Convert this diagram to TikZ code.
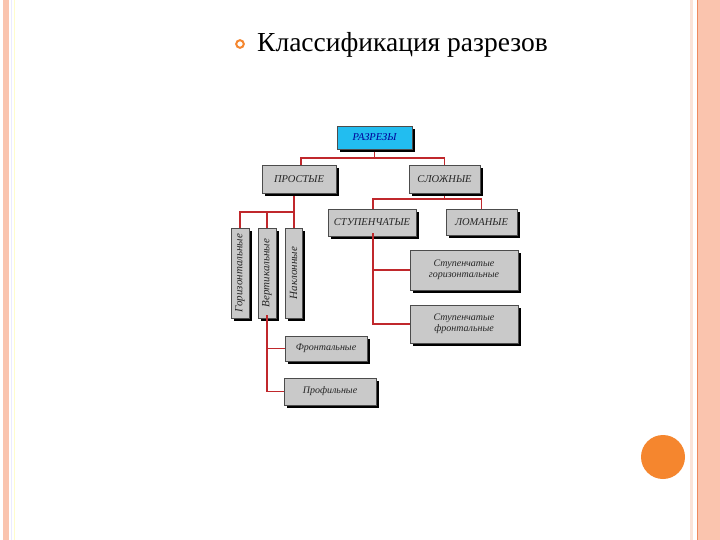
\documentclass[tikz,border=0pt]{standalone}
\usepackage{fontspec}
\setmainfont{Liberation Serif}
\usetikzlibrary{shadows}
\definecolor{peach}{HTML}{FAC4AE}
\definecolor{paleline}{HTML}{FBE3D8}
\definecolor{orangeline}{HTML}{F08A5E}
\definecolor{dotorange}{HTML}{F5862E}
\definecolor{boxgray}{HTML}{C9C9C9}
\definecolor{cyanbox}{HTML}{22BDF0}
\definecolor{linkred}{HTML}{C0282C}
\tikzset{
  box/.style={draw=black!70, line width=0.4pt, fill=boxgray, rectangle, inner sep=0pt,
    font=\fontsize{10}{10.5}\selectfont\itshape, text=black!85, align=center,
    drop shadow={shadow xshift=3pt, shadow yshift=-3pt, fill=black, opacity=1}},
  capsbox/.style={box, font=\fontsize{10.5}{11}\selectfont\itshape},
  vbox/.style={box, font=\fontsize{11}{11}\selectfont\itshape},
  link/.style={draw=linkred, line width=1.6pt}
}
\begin{document}
\begin{tikzpicture}[x=1pt,y=-1pt]
\useasboundingbox (0,0) rectangle (720,540);
\fill[white] (0,0) rectangle (720,540);
% slide decoration
\fill[peach] (3,0) rectangle (9,540);
\draw[blue!8, line width=0.8pt] (11,0) -- (11,540);
\draw[yellow!20, line width=0.8pt] (14,0) -- (14,540);
\fill[paleline] (690,0) rectangle (692.7,540);
\fill[orangeline] (696.7,0) rectangle (698.3,540);
\fill[peach] (698.3,0) rectangle (720,540);
\fill[dotorange] (663,457) circle (22);
% header
\draw[dotorange, line width=2pt, fill=white] (240,44) circle (3.8);
\node[anchor=base west, inner sep=0pt, font=\fontsize{27.5}{30}\selectfont] (title) at (257,52) {Классификация разрезов};
% connectors
\draw[link] (374.5,149) -- (374.5,158) coordinate (b1);
\draw[link] (b1) -| (301,165);
\draw[link] (b1) -| (444.5,165);
\draw[link] (444.5,193) -- (444.5,199) coordinate (b2);
\draw[link] (b2) -| (373,209);
\draw[link] (b2) -| (481.5,209);
\draw[link] (294,193) -- (294,212) coordinate (b3);
\draw[link] (b3) -| (240,228);
\draw[link] (b3) -| (267,228);
\draw[link] (b3) -- (294,228);
% boxes
\node[capsbox, fill=cyanbox, text=blue!60!black, minimum width=75, minimum height=23] (raz) at (374.5,137.5) {РАЗРЕЗЫ};
\node[capsbox, minimum width=74, minimum height=28] (prost) at (299,179) {ПРОСТЫЕ};
\node[capsbox, minimum width=71, minimum height=28] (slozh) at (444.5,179) {СЛОЖНЫЕ};
\node[capsbox, minimum width=88, minimum height=27] (stup) at (372,222.5) {СТУПЕНЧАТЫЕ};
\node[capsbox, minimum width=71, minimum height=26] (lom) at (481.5,222) {ЛОМАНЫЕ};
\node[box, minimum width=108, minimum height=40] (stgor) at (464,270) {Ступенчатые\\горизонтальные};
\node[box, minimum width=108, minimum height=38] (stfr) at (464,324) {Ступенчатые\\фронтальные};
\node[vbox, minimum width=18, minimum height=90] (gor) at (240,273) {\rotatebox{90}{Горизонтальные}};
\node[vbox, minimum width=18, minimum height=90] (vert) at (267,273) {\rotatebox{90}{Вертикальные}};
\node[vbox, minimum width=17, minimum height=90] (nakl) at (293.5,273) {\rotatebox{90}{Наклонные}};
\node[box, minimum width=82, minimum height=25] (front) at (326,348.5) {Фронтальные};
\node[box, minimum width=92, minimum height=27] (prof) at (330,391.5) {Профильные};
% lower connectors
\draw[link] ([xshift=1pt,yshift=3pt]stup.south) |- (stgor.west);
\draw[link] ([xshift=1pt,yshift=3pt]stup.south) |- (stfr.west);
\draw[link] ([yshift=3pt]vert.south) |- (front.west);
\draw[link] ([yshift=3pt]vert.south) |- (prof.west);
\end{tikzpicture}
\end{document}
